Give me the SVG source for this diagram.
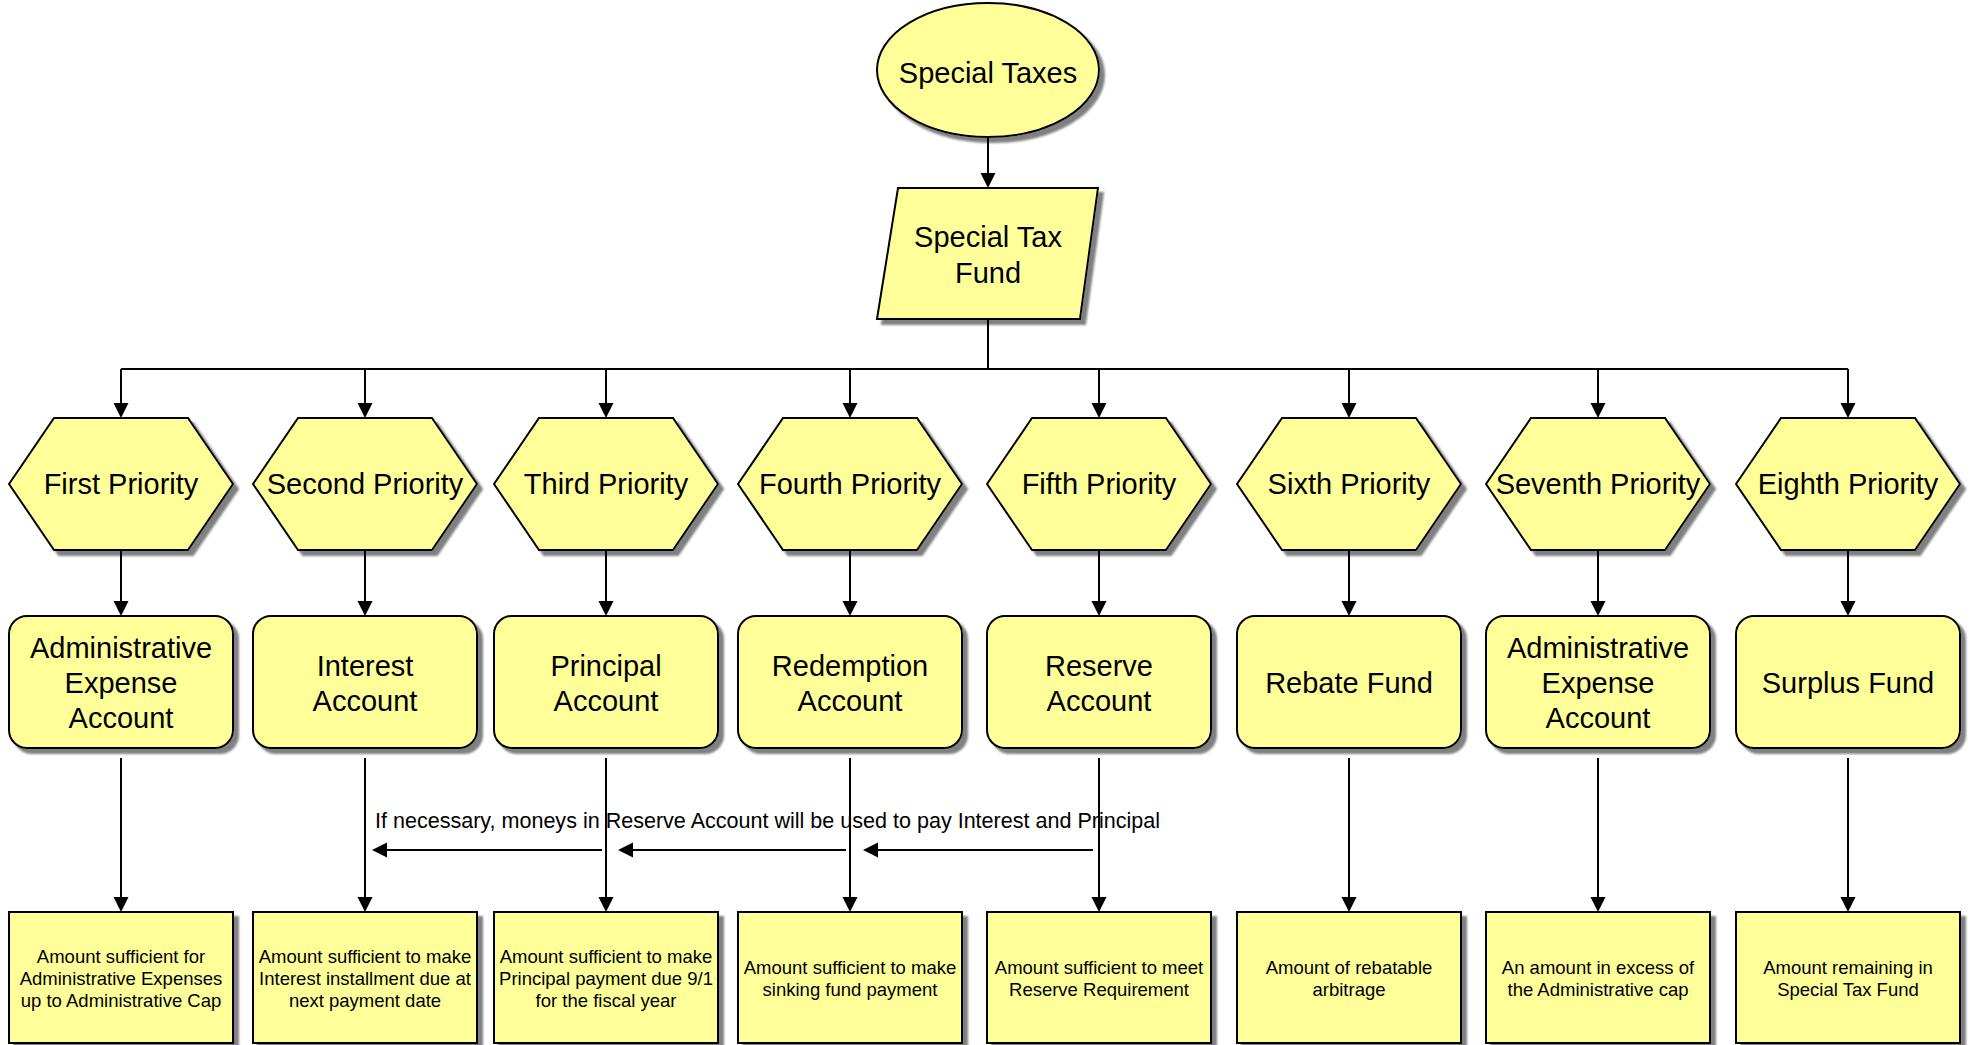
<svg xmlns="http://www.w3.org/2000/svg" width="1975" height="1045" viewBox="0 0 1975 1045">
<style>
.s{fill:#FFFF99;stroke:#000;stroke-width:2}
.t{font-family:"Liberation Sans",Arial,sans-serif;font-size:29px;fill:#000;text-anchor:middle}
.b{font-family:"Liberation Sans",Arial,sans-serif;font-size:18.5px;fill:#000;text-anchor:middle}
.n{font-family:"Liberation Sans",Arial,sans-serif;font-size:21.5px;fill:#000}
.c{fill:none;stroke:#000;stroke-width:2}
.a{marker-end:url(#ah)}
</style>
<defs>
<marker id="ah" markerUnits="userSpaceOnUse" markerWidth="16" markerHeight="16" refX="13" refY="7.5" orient="auto" viewBox="0 0 16 16">
<path d="M0,0 L15,7.5 L0,15 z" fill="#000"/>
</marker>
<filter id="sh" x="-10%" y="-10%" width="130%" height="130%">
<feGaussianBlur in="SourceAlpha" stdDeviation="1"/>
<feOffset dx="5" dy="5" result="o"/>
<feFlood flood-color="#808080"/>
<feComposite in2="o" operator="in" result="g"/>
<feMerge><feMergeNode in="g"/><feMergeNode in="SourceGraphic"/></feMerge>
</filter>
</defs>

<g id="special-taxes">
<ellipse class="s" filter="url(#sh)" cx="988" cy="70" rx="111" ry="67"/>
<text class="t" x="988" y="83">Special Taxes</text>
</g>
<g id="special-tax-fund">
<polygon class="s" filter="url(#sh)" points="898,188 1098,188 1080,319 877,319"/>
<text class="t" x="988" y="247">Special Tax</text>
<text class="t" x="988" y="283">Fund</text>
</g>

<g id="p1"><polygon class="s" filter="url(#sh)" points="9,484 54,418 188,418 233,484 188,550 54,550"/><text class="t" x="121" y="494">First Priority</text></g>
<g id="p2"><polygon class="s" filter="url(#sh)" points="253,484 298,418 432,418 477,484 432,550 298,550"/><text class="t" x="365" y="494">Second Priority</text></g>
<g id="p3"><polygon class="s" filter="url(#sh)" points="494,484 539,418 673,418 718,484 673,550 539,550"/><text class="t" x="606" y="494">Third Priority</text></g>
<g id="p4"><polygon class="s" filter="url(#sh)" points="738,484 783,418 917,418 962,484 917,550 783,550"/><text class="t" x="850" y="494">Fourth Priority</text></g>
<g id="p5"><polygon class="s" filter="url(#sh)" points="987,484 1032,418 1166,418 1211,484 1166,550 1032,550"/><text class="t" x="1099" y="494">Fifth Priority</text></g>
<g id="p6"><polygon class="s" filter="url(#sh)" points="1237,484 1282,418 1416,418 1461,484 1416,550 1282,550"/><text class="t" x="1349" y="494">Sixth Priority</text></g>
<g id="p7"><polygon class="s" filter="url(#sh)" points="1486,484 1531,418 1665,418 1710,484 1665,550 1531,550"/><text class="t" x="1598" y="494">Seventh Priority</text></g>
<g id="p8"><polygon class="s" filter="url(#sh)" points="1736,484 1781,418 1915,418 1960,484 1915,550 1781,550"/><text class="t" x="1848" y="494">Eighth Priority</text></g>

<g id="r1"><rect class="s" filter="url(#sh)" x="9" y="616" width="224" height="132" rx="18"/><text class="t" x="121" y="658">Administrative</text><text class="t" x="121" y="693">Expense</text><text class="t" x="121" y="728">Account</text></g>
<g id="r2"><rect class="s" filter="url(#sh)" x="253" y="616" width="224" height="132" rx="18"/><text class="t" x="365" y="675.5">Interest</text><text class="t" x="365" y="710.5">Account</text></g>
<g id="r3"><rect class="s" filter="url(#sh)" x="494" y="616" width="224" height="132" rx="18"/><text class="t" x="606" y="675.5">Principal</text><text class="t" x="606" y="710.5">Account</text></g>
<g id="r4"><rect class="s" filter="url(#sh)" x="738" y="616" width="224" height="132" rx="18"/><text class="t" x="850" y="675.5">Redemption</text><text class="t" x="850" y="710.5">Account</text></g>
<g id="r5"><rect class="s" filter="url(#sh)" x="987" y="616" width="224" height="132" rx="18"/><text class="t" x="1099" y="675.5">Reserve</text><text class="t" x="1099" y="710.5">Account</text></g>
<g id="r6"><rect class="s" filter="url(#sh)" x="1237" y="616" width="224" height="132" rx="18"/><text class="t" x="1349" y="693">Rebate Fund</text></g>
<g id="r7"><rect class="s" filter="url(#sh)" x="1486" y="616" width="224" height="132" rx="18"/><text class="t" x="1598" y="658">Administrative</text><text class="t" x="1598" y="693">Expense</text><text class="t" x="1598" y="728">Account</text></g>
<g id="r8"><rect class="s" filter="url(#sh)" x="1736" y="616" width="224" height="132" rx="18"/><text class="t" x="1848" y="693">Surplus Fund</text></g>

<g id="d1"><rect class="s" filter="url(#sh)" x="9" y="912" width="224" height="131"/><text class="b" x="121" y="963">Amount sufficient for</text><text class="b" x="121" y="985">Administrative Expenses</text><text class="b" x="121" y="1007">up to Administrative Cap</text></g>
<g id="d2"><rect class="s" filter="url(#sh)" x="253" y="912" width="224" height="131"/><text class="b" x="365" y="963">Amount sufficient to make</text><text class="b" x="365" y="985">Interest installment due at</text><text class="b" x="365" y="1007">next payment date</text></g>
<g id="d3"><rect class="s" filter="url(#sh)" x="494" y="912" width="224" height="131"/><text class="b" x="606" y="963">Amount sufficient to make</text><text class="b" x="606" y="985">Principal payment due 9/1</text><text class="b" x="606" y="1007">for the fiscal year</text></g>
<g id="d4"><rect class="s" filter="url(#sh)" x="738" y="912" width="224" height="131"/><text class="b" x="850" y="974">Amount sufficient to make</text><text class="b" x="850" y="996">sinking fund payment</text></g>
<g id="d5"><rect class="s" filter="url(#sh)" x="987" y="912" width="224" height="131"/><text class="b" x="1099" y="974">Amount sufficient to meet</text><text class="b" x="1099" y="996">Reserve Requirement</text></g>
<g id="d6"><rect class="s" filter="url(#sh)" x="1237" y="912" width="224" height="131"/><text class="b" x="1349" y="974">Amount of rebatable</text><text class="b" x="1349" y="996">arbitrage</text></g>
<g id="d7"><rect class="s" filter="url(#sh)" x="1486" y="912" width="224" height="131"/><text class="b" x="1598" y="974">An amount in excess of</text><text class="b" x="1598" y="996">the Administrative cap</text></g>
<g id="d8"><rect class="s" filter="url(#sh)" x="1736" y="912" width="224" height="131"/><text class="b" x="1848" y="974">Amount remaining in</text><text class="b" x="1848" y="996">Special Tax Fund</text></g>

<g id="reserve-note">
<text class="n" x="375" y="828" textLength="785" lengthAdjust="spacingAndGlyphs">If necessary, moneys in Reserve Account will be used to pay Interest and Principal</text>
</g>

<g id="connectors">
<path class="c a" d="M988,137 V186"/>
<path class="c" d="M988,319 V369 M121,369 H1848"/>
<path class="c a" d="M121,369 V416"/>
<path class="c a" d="M365,369 V416"/>
<path class="c a" d="M606,369 V416"/>
<path class="c a" d="M850,369 V416"/>
<path class="c a" d="M1099,369 V416"/>
<path class="c a" d="M1349,369 V416"/>
<path class="c a" d="M1598,369 V416"/>
<path class="c a" d="M1848,369 V416"/>
<path class="c a" d="M121,550 V614"/>
<path class="c a" d="M365,550 V614"/>
<path class="c a" d="M606,550 V614"/>
<path class="c a" d="M850,550 V614"/>
<path class="c a" d="M1099,550 V614"/>
<path class="c a" d="M1349,550 V614"/>
<path class="c a" d="M1598,550 V614"/>
<path class="c a" d="M1848,550 V614"/>
<path class="c a" d="M121,758 V910"/>
<path class="c a" d="M365,758 V910"/>
<path class="c a" d="M606,758 V910"/>
<path class="c a" d="M850,758 V910"/>
<path class="c a" d="M1099,758 V910"/>
<path class="c a" d="M1349,758 V910"/>
<path class="c a" d="M1598,758 V910"/>
<path class="c a" d="M1848,758 V910"/>
<path class="c a" d="M602,850 H374"/>
<path class="c a" d="M846,850 H620"/>
<path class="c a" d="M1093,850 H865"/>
</g>
</svg>
